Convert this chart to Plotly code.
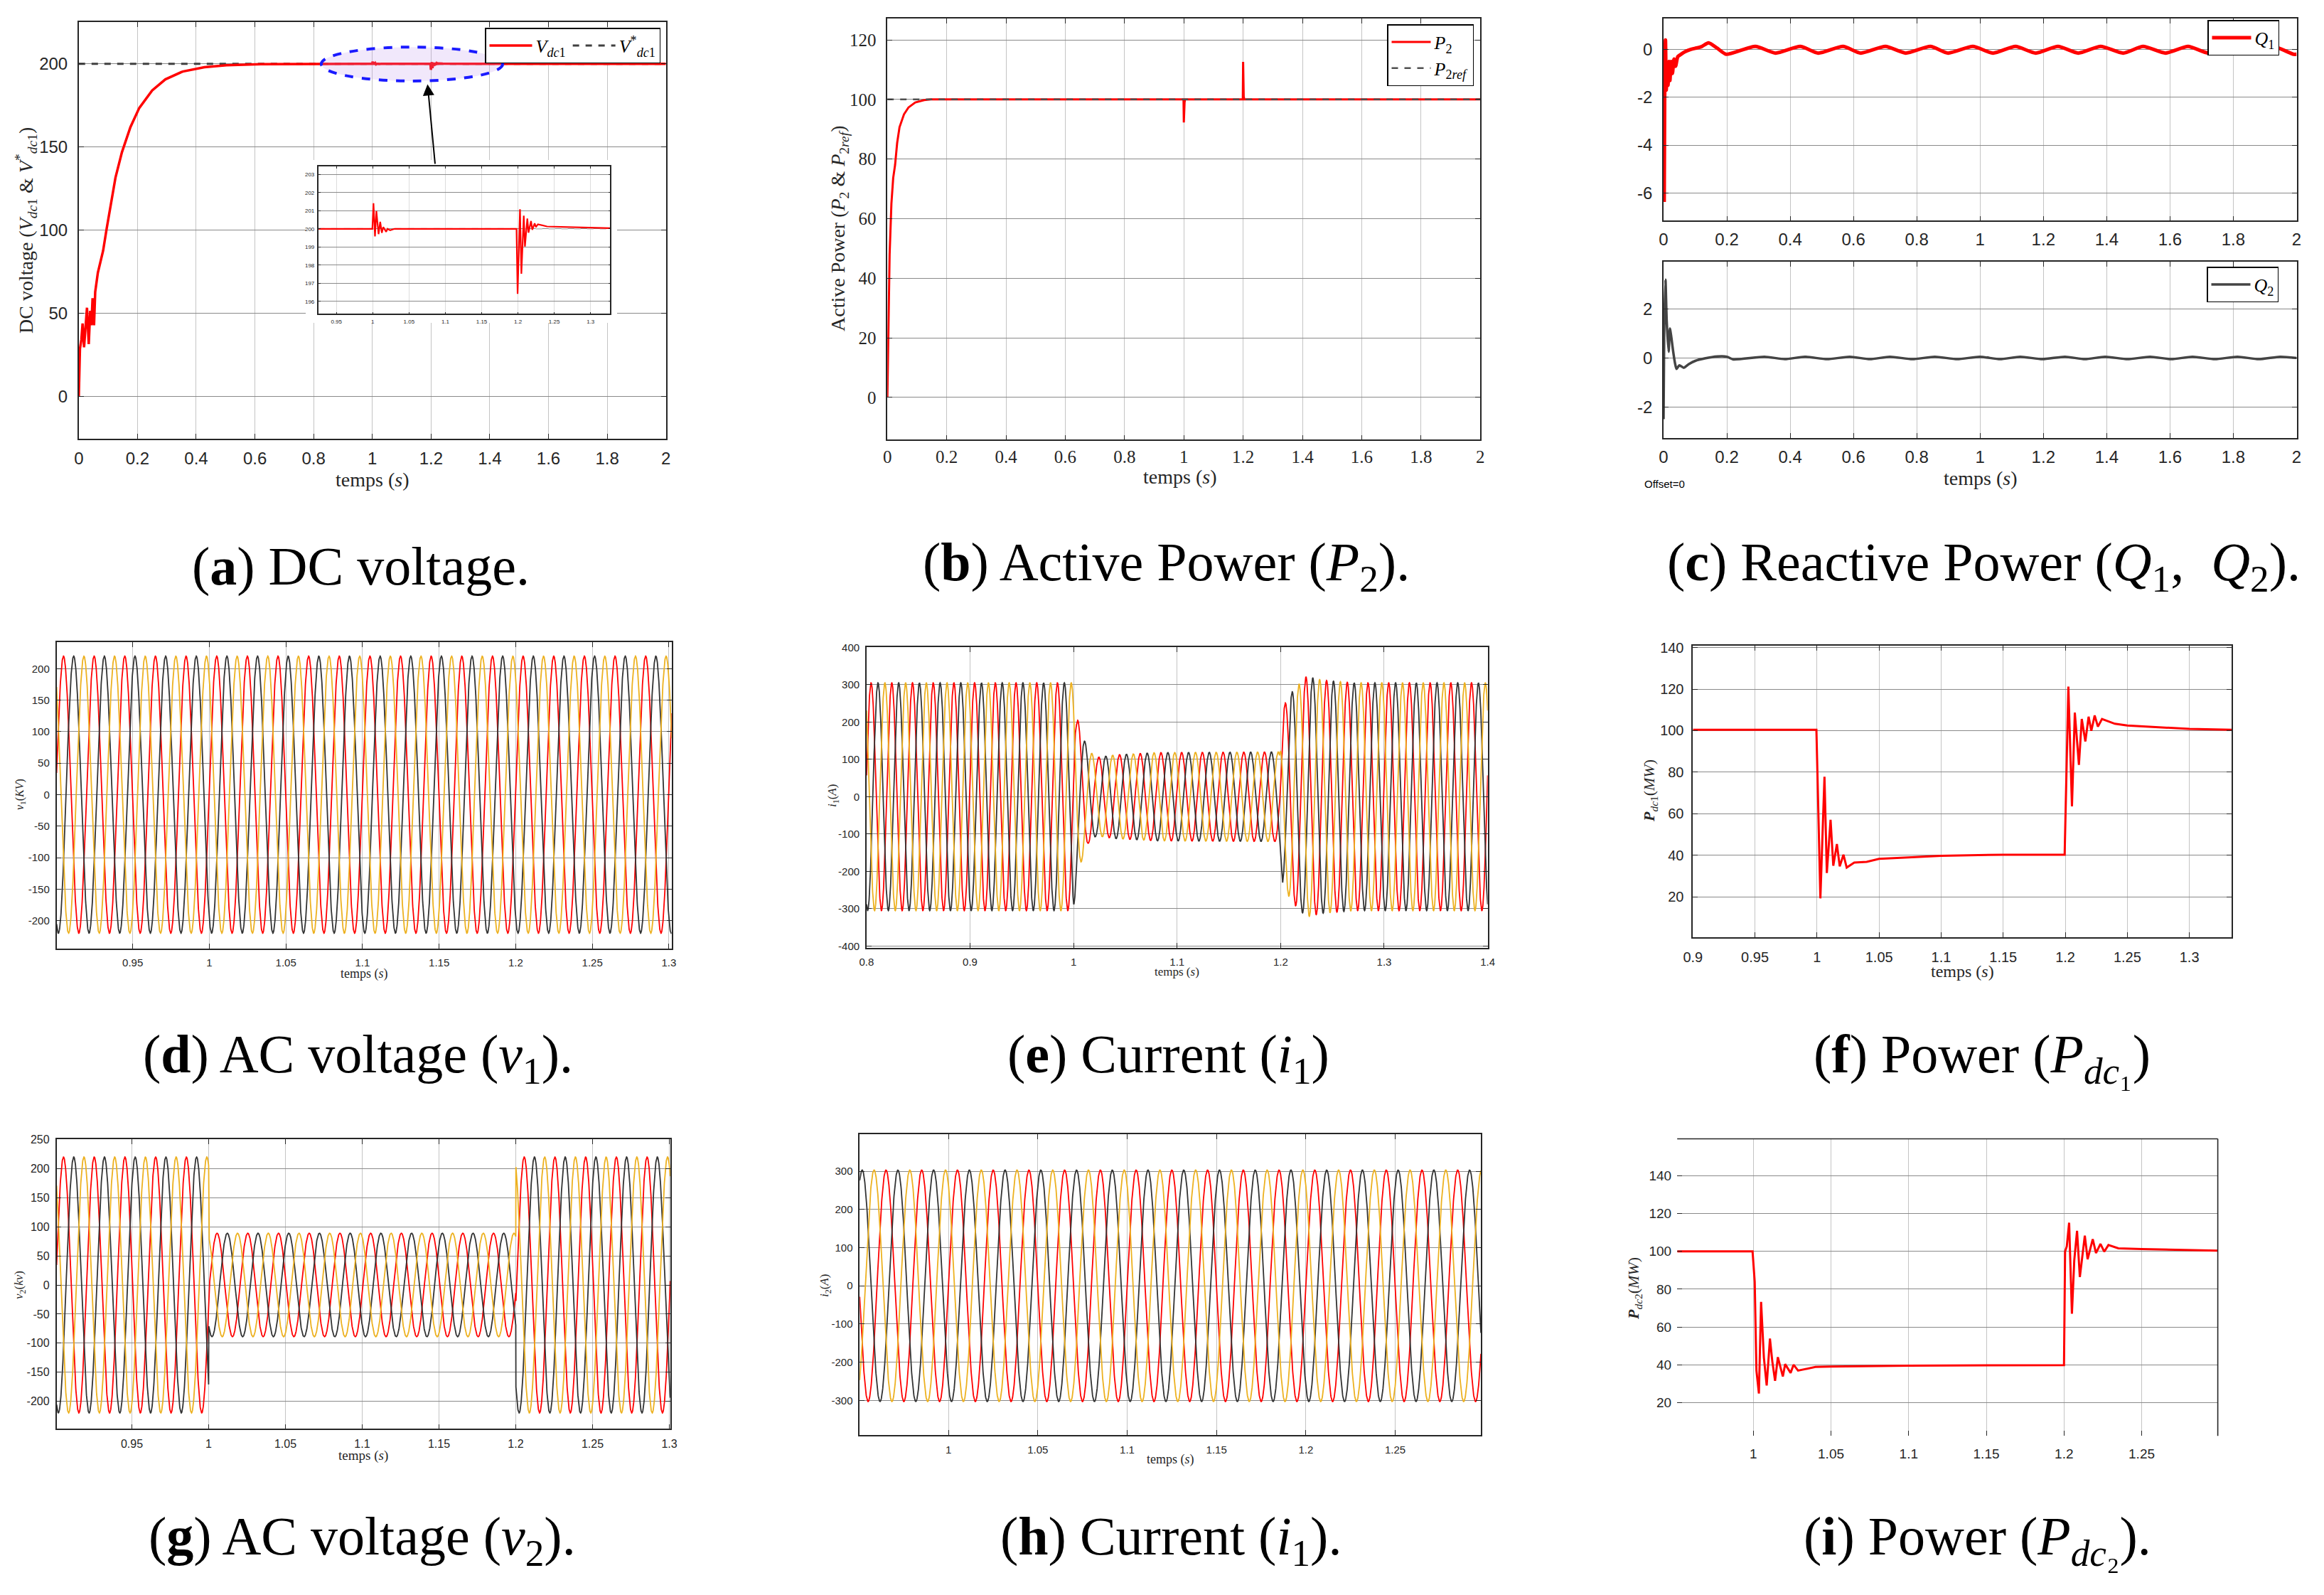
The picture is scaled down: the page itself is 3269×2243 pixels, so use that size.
import numpy as np
import plotly.graph_objects as go

W, H = 3269, 2243
SANS = "Liberation Sans"
SERIF = "Liberation Serif"
RED = "#FF0000"
DARK = "#333333"
ORANGE = "#EDB120"
INK = "#262626"

# ---------------- data ----------------
# (a) DC voltage
vdc_start_t = [0, 0.004, 0.009, 0.013, 0.018, 0.024, 0.028, 0.034, 0.039, 0.043, 0.047, 0.052, 0.056,
               0.065, 0.073, 0.083, 0.095, 0.11, 0.125, 0.147, 0.176, 0.206, 0.25, 0.295, 0.354,
               0.428, 0.503, 0.621, 0.77]
vdc_start_v = [0, 28.8, 34.5, 44, 29.7, 42, 53.5, 31.6, 51.6, 43, 59.2, 43, 63,
               74.5, 80.2, 87.8, 101, 116, 131.6, 146.9, 162, 173.5, 184, 190.7, 195.4,
               198, 199.2, 199.8, 200]
vdc_zoom_t = [0.925, 0.9995, 1.001, 1.0031, 1.005, 1.008, 1.0103, 1.0125, 1.0145, 1.0184, 1.0204,
              1.024, 1.03, 1.198, 1.1995, 1.2028, 1.2047, 1.208, 1.2096, 1.2129, 1.2145, 1.218,
              1.2197, 1.223, 1.2246, 1.2275, 1.24, 1.327]
vdc_zoom_v = [200, 200, 201.41, 199.58, 200.98, 199.71, 200.39, 199.78, 200.1, 199.84, 200.0,
              199.92, 200, 200, 196.42, 201.08, 197.53, 200.73, 199.03, 200.57, 199.79, 200.43,
              199.95, 200.3, 200.1, 200.25, 200.13, 200.04]
vdc_end_t = [2.0]
vdc_end_v = [200]
vdc_ref_t = [0, 2]
vdc_ref_v = [200, 200]
vdc_x_ticks = [0, 0.2, 0.4, 0.6, 0.8, 1, 1.2, 1.4, 1.6, 1.8, 2]
vdc_y_ticks = [0, 50, 100, 150, 200]
zoom_x_ticks = [0.95, 1, 1.05, 1.1, 1.15, 1.2, 1.25, 1.3]
zoom_y_ticks = [196, 197, 198, 199, 200, 201, 202, 203]

# (b) Active power
p2_t = [0, 0.003, 0.0076, 0.0136, 0.0197, 0.026, 0.033, 0.041, 0.056, 0.071, 0.094, 0.124, 0.147,
        0.999, 1.0, 1.0025, 1.004, 1.199, 1.2, 1.202, 1.204, 2.0]
p2_v = [0, 20.4, 48, 65, 73.7, 78, 85.4, 90.7, 95, 97.3, 99, 99.8, 100,
        100, 92.3, 99, 100, 100, 112.6, 101, 100, 100]
p2ref_t = [0, 2]
p2ref_v = [100, 100]
p2_y_ticks = [0, 20, 40, 60, 80, 100, 120]

# (c) Reactive powers
q1_t = [0, 0.002, 0.0035, 0.006, 0.0085, 0.011, 0.014, 0.017, 0.02, 0.024, 0.028, 0.033, 0.038,
        0.045, 0.055, 0.07, 0.085, 0.1, 0.12, 0.142, 0.17, 0.198,
        0.29, 0.354, 0.432, 0.489, 0.567, 0.623, 0.701, 0.765, 0.843, 0.899, 0.977, 1.041,
        1.112, 1.176, 1.246, 1.31, 1.381, 1.452, 1.515, 1.586, 1.657, 1.721, 1.799, 1.856,
        1.925, 1.99, 2.0]
q1_v = [0.1, -6.3, -2.0, 0.4, -1.7, -0.6, -1.5, -0.5, -1.3, -0.5, -1.0, -0.4, -0.7,
        -0.3, -0.2, -0.08, 0.0, 0.05, 0.12, 0.28, 0.05, -0.2,
        0.13, -0.15, 0.13, -0.15, 0.13, -0.15, 0.13, -0.15, 0.13, -0.15, 0.13, -0.15,
        0.13, -0.15, 0.13, -0.15, 0.13, -0.15, 0.13, -0.15, 0.13, -0.15, 0.13, -0.15,
        0.13, -0.2, -0.2]
q2_t = [0, 0.002, 0.006, 0.01, 0.016, 0.02, 0.024, 0.03, 0.036, 0.041, 0.05, 0.064, 0.08, 0.1,
        0.13, 0.17, 0.2, 0.22,
        0.319, 0.383, 0.446, 0.517, 0.588, 0.652, 0.715, 0.786, 0.857, 0.928, 0.999, 1.063,
        1.127, 1.197, 1.268, 1.331, 1.395, 1.466, 1.537, 1.604, 1.671, 1.742, 1.813, 1.88,
        1.948, 2.0]
q2_v = [-2.5, 1.0, 3.2, 1.5, 0.25, 1.2, 0.9, 0.3, -0.2, -0.45, -0.3, -0.4, -0.25, -0.12,
        -0.02, 0.06, 0.05, -0.06,
        0.05, -0.05, 0.05, -0.05, 0.05, -0.05, 0.05, -0.05, 0.05, -0.05, 0.05, -0.05,
        0.05, -0.05, 0.05, -0.05, 0.05, -0.05, 0.05, -0.05, 0.05, -0.05, 0.05, -0.05,
        0.05, 0.0]
q1_y_ticks = [-6, -4, -2, 0]
q2_y_ticks = [-2, 0, 2]

# three-phase waveforms (50 Hz, phase order red -> dark -> orange)
f_grid = 50
phase_colors = [RED, DARK, ORANGE]
# (d) v1
v1_window = [0.9003, 1.3017]
v1_amp = 220
v1_red_peak = 0.9048
# (e) i1 : amplitude envelope
i1_window = [0.8, 1.4]
i1_env_t = [0.8, 1.0, 1.003, 1.008, 1.014, 1.022, 1.04, 1.08, 1.199, 1.202, 1.212, 1.225, 1.24, 1.27, 1.4]
i1_env_a = [305, 305, 215, 170, 125, 105, 112, 118, 120, 240, 285, 322, 312, 305, 305]
i1_red_peak = 0.8044
# (g) v2 : amplitude steps
v2_window = [0.901, 1.3006]
v2_step_t = [1.0, 1.2]
v2_step_a = [220, 89, 220]
v2_red_peak = 0.9055
# (h) i2
i2_window = [0.9503, 1.298]
i2_amp = 303
i2_red_peak = 0.965

# (f) Pdc1
pdc1_t = [0.9, 0.9995, 1.0027, 1.006, 1.0079, 1.0109, 1.0131, 1.016, 1.0183, 1.0213, 1.0239, 1.03,
          1.04, 1.05, 1.1, 1.15, 1.1995, 1.2025, 1.2054, 1.2077, 1.211, 1.2133, 1.2162, 1.2188,
          1.221, 1.2237, 1.2263, 1.2296, 1.24, 1.25, 1.3, 1.334]
pdc1_v = [100.4, 100.4, 19.3, 77.8, 31.5, 57.1, 35, 45.4, 34.7, 40.3, 34.1, 36.5,
          36.9, 38.3, 39.8, 40.3, 40.3, 121.2, 63.6, 108.7, 83.5, 105.6, 94.8, 106.7,
          99.9, 107.3, 101.9, 105.6, 103.3, 102.5, 100.8, 100.4]
# (i) Pdc2
pdc2_t = [0.951, 0.9995, 1.0009, 1.002, 1.0036, 1.005, 1.0068, 1.0086, 1.0107, 1.0122, 1.014,
          1.0158, 1.019, 1.0205, 1.024, 1.0259, 1.0288, 1.04, 1.05, 1.1, 1.2, 1.2007, 1.2018,
          1.2033, 1.2051, 1.2066, 1.2084, 1.2102, 1.2134, 1.2152, 1.2185, 1.2206, 1.2235,
          1.2259, 1.2286, 1.235, 1.25, 1.299]
pdc2_v = [100, 100, 83.9, 37, 24.9, 73.3, 43.9, 29.1, 53.9, 42, 31.6,
          44.1, 33.9, 40.4, 35.8, 40.1, 37, 38.9, 39.1, 39.6, 39.9, 100, 102.6,
          115.1, 67, 95.1, 110.8, 86.4, 108.3, 95.8, 106.4, 99.1, 103.9,
          99.8, 103.3, 101.6, 101.2, 100.3]
pdc_y_ticks = [20, 40, 60, 80, 100, 120, 140]

fig = go.Figure()


def fmt(v):
    return f"{v:g}"


def dom(px0, px1, is_x):
    if is_x:
        return [px0 / W, px1 / W]
    return [1 - px1 / H, 1 - px0 / H]


def axis(n, is_x, dpx, rng, ticks, family, size, grid, standoff, showline=True):
    other = ("y" if is_x else "x") + ("" if n == 1 else str(n))
    d = dict(domain=dom(dpx[0], dpx[1], is_x), range=rng, anchor=other, automargin=False,
             tickmode="array", tickvals=ticks, ticktext=[fmt(v) for v in ticks],
             tickfont=dict(family=family, size=size, color=INK),
             showgrid=True, gridcolor=grid, gridwidth=1.3, zeroline=False,
             showline=showline, linecolor=INK, linewidth=1.6,
             mirror="ticks" if showline else False,
             ticks="inside", ticklen=7, tickcolor=INK, tickwidth=1.2,
             ticklabelstandoff=standoff, fixedrange=True)
    return d


layout = {}


def add_axes(n, xpx, ypx, xr, yr, xt, yt, family, size, xs=6, ys=6, xgrid="#c4c4c4",
             ygrid="#8a8a8a", showline=True):
    kx = "xaxis" if n == 1 else f"xaxis{n}"
    ky = "yaxis" if n == 1 else f"yaxis{n}"
    layout[kx] = axis(n, True, xpx, xr, xt, family, size, xgrid, xs, showline)
    layout[ky] = axis(n, False, ypx, yr, yt, family, size, ygrid, ys, showline)


def ref(n):
    return ("x" if n == 1 else f"x{n}"), ("y" if n == 1 else f"y{n}")


# ---- (a) ----
add_axes(1, [110.8, 936.7], [31.3, 616.5], [0, 2], [-25, 225], vdc_x_ticks, vdc_y_ticks, SANS, 24, 6, 9)
fig.add_trace(go.Scatter(x=vdc_ref_t, y=vdc_ref_v, mode="lines", line=dict(color="#404040", width=3, dash="dash"),
                         name="<i>V</i><sup>*</sup><sub><i>dc</i>1</sub>", legend="legend", showlegend=True))
fig.add_trace(go.Scatter(x=vdc_start_t + vdc_zoom_t + vdc_end_t, y=vdc_start_v + vdc_zoom_v + vdc_end_v,
                         mode="lines", line=dict(color=RED, width=3.5),
                         name="<i>V</i><sub><i>dc</i>1</sub>", legend="legend", showlegend=True))
# inset background (own subplot so it hides the main grid)
layout["xaxis2"] = dict(domain=dom(430, 868, True), range=[0, 1], anchor="y2", visible=False,
                        fixedrange=True, automargin=False)
layout["yaxis2"] = dict(domain=dom(225, 454, False), range=[0, 1], anchor="x2", visible=False,
                        fixedrange=True, automargin=False)
fig.add_trace(go.Scatter(x=[0, 1, 1, 0, 0], y=[0, 0, 1, 1, 0], xaxis="x2", yaxis="y2", mode="lines",
                         fill="toself", fillcolor="white", line=dict(width=0), showlegend=False, hoverinfo="skip"))
# inset
add_axes(3, [447.7, 858.3], [234, 441.3], [0.925, 1.327], [195.32, 203.44], zoom_x_ticks, zoom_y_ticks,
         SANS, 8, 2, 2, xgrid="#dcdcdc", ygrid="#8a8a8a")
layout["xaxis3"]["ticklen"] = 3
layout["yaxis3"]["ticklen"] = 3
fig.add_trace(go.Scatter(x=[vdc_zoom_t[0], vdc_zoom_t[-1]], y=vdc_ref_v, xaxis="x3", yaxis="y3", mode="lines",
                         line=dict(color="#c8c8c8", width=2, dash="dash"), showlegend=False))
fig.add_trace(go.Scatter(x=vdc_zoom_t, y=vdc_zoom_v, xaxis="x3", yaxis="y3", mode="lines",
                         line=dict(color=RED, width=2.2), showlegend=False))

# ---- (b) ----
add_axes(4, [1248.2, 2082.2], [25.9, 618.3], [0, 2], [-14.2, 127.2], vdc_x_ticks, p2_y_ticks, SERIF, 25, 1, 9)
fig.add_trace(go.Scatter(x=p2_t, y=p2_v, xaxis="x4", yaxis="y4", mode="lines", line=dict(color=RED, width=3),
                         name="<i>P</i><sub>2</sub>", legend="legend2"))
fig.add_trace(go.Scatter(x=p2ref_t, y=p2ref_v, xaxis="x4", yaxis="y4", mode="lines",
                         line=dict(color="#505050", width=2.5, dash="dash"),
                         name="<i>P</i><sub>2<i>ref</i></sub>", legend="legend2"))

# ---- (c) ----
add_axes(5, [2340, 3230.5], [25.9, 310.3], [0, 2], [-7.16, 1.3], vdc_x_ticks, q1_y_ticks, SANS, 24, 4, 9)
fig.add_trace(go.Scatter(x=q1_t, y=q1_v, xaxis="x5", yaxis="y5", mode="lines",
                         line=dict(color=RED, width=5, shape="spline", smoothing=0.6),
                         name="<i>Q</i><sub>1</sub>", legend="legend3"))
add_axes(6, [2340, 3230.5], [368, 616], [0, 2], [-3.27, 3.93], vdc_x_ticks, q2_y_ticks, SANS, 24, 4, 9)
fig.add_trace(go.Scatter(x=q2_t, y=q2_v, xaxis="x6", yaxis="y6", mode="lines",
                         line=dict(color="#444444", width=3.5, shape="spline", smoothing=0.6),
                         name="<i>Q</i><sub>2</sub>", legend="legend4"))


def phases(n, t0, t1, amp_of_t, t_peak):
    t = np.arange(t0, t1 + 1e-4, 1e-4)
    a = amp_of_t(t)
    xr, yr = ref(n)
    for k, col in enumerate(phase_colors):
        y = a * np.cos(2 * np.pi * f_grid * (t - t_peak - k / (3 * f_grid)))
        fig.add_trace(go.Scatter(x=t, y=y, xaxis=xr, yaxis=yr, mode="lines",
                                 line=dict(color=col, width=1.8), showlegend=False, hoverinfo="skip"))


# ---- (d) ----
add_axes(7, [79.6, 944.6], [903.2, 1333.6], v1_window, [-244, 242],
         [0.95, 1, 1.05, 1.1, 1.15, 1.2, 1.25, 1.3], list(range(-200, 201, 50)), SANS, 15, 6, 5)
phases(7, v1_window[0], v1_window[1], lambda t: np.full_like(t, v1_amp), v1_red_peak)

# ---- (e) ----
add_axes(8, [1218.9, 2092.6], [909.8, 1332.6], i1_window, [-404, 401],
         [0.8, 0.9, 1, 1.1, 1.2, 1.3, 1.4], list(range(-400, 401, 100)), SANS, 15, 6, 5)
phases(8, i1_window[0], i1_window[1], lambda t: np.interp(t, i1_env_t, i1_env_a), i1_red_peak)

# ---- (f) ----
add_axes(9, [2381.3, 3139], [908.2, 1317.7], [0.9, 1.334], [0.7, 140.8],
         [0.9, 0.95, 1, 1.05, 1.1, 1.15, 1.2, 1.25, 1.3], pdc_y_ticks, SANS, 20, 9, 7)
fig.add_trace(go.Scatter(x=pdc1_t, y=pdc1_v, xaxis="x9", yaxis="y9", mode="lines",
                         line=dict(color=RED, width=3), showlegend=False))

# ---- (g) ----
add_axes(10, [79.6, 942.8], [1602.2, 2009.4], v2_window, [-247.4, 250.4],
         [0.95, 1, 1.05, 1.1, 1.15, 1.2, 1.25, 1.3], list(range(-200, 251, 50)), SANS, 16, 6, 5)
phases(10, v2_window[0], v2_window[1],
       lambda t: np.where(t < v2_step_t[0], v2_step_a[0], np.where(t < v2_step_t[1], v2_step_a[1], v2_step_a[2])),
       v2_red_peak)

# ---- (h) ----
add_axes(11, [1209.3, 2083.1], [1594.9, 2017.7], i2_window, [-390, 397],
         [1, 1.05, 1.1, 1.15, 1.2, 1.25], list(range(-300, 301, 100)), SANS, 15, 6, 5)
phases(11, i2_window[0], i2_window[1], lambda t: np.full_like(t, i2_amp), i2_red_peak)

# ---- (i) ----
add_axes(12, [2359.2, 3119.6], [1601.5, 2019.3], [0.951, 1.299], [2.5, 159.4],
         [1, 1.05, 1.1, 1.15, 1.2, 1.25], pdc_y_ticks, SANS, 19, 12, 7, showline=False)
fig.add_trace(go.Scatter(x=pdc2_t, y=pdc2_v, xaxis="x12", yaxis="y12", mode="lines",
                         line=dict(color=RED, width=3), showlegend=False))

# ---------------- shapes ----------------
shapes = [
    dict(type="circle", xref="x", yref="y", x0=0.826, x1=1.444, y0=189.7, y1=210.1,
         line=dict(color="#1a1aff", width=4, dash="dash"), fillcolor="rgba(190,150,235,0.22)", layer="above"),
    dict(type="line", xref="x12 domain", yref="y12 domain", x0=0, x1=1, y0=1, y1=1,
         line=dict(color=INK, width=1.6)),
    dict(type="line", xref="x12 domain", yref="y12 domain", x0=1, x1=1, y0=0, y1=1,
         line=dict(color=INK, width=1.6)),
]

# ---------------- annotations ----------------
ann = []


def txt(xpx, ypx, text, size, family=SERIF, angle=0, xanchor="center", yanchor="middle", color="black"):
    ann.append(dict(x=xpx / W, y=1 - ypx / H, xref="paper", yref="paper", text=text, showarrow=False,
                    textangle=angle, xanchor=xanchor, yanchor=yanchor,
                    font=dict(family=family, size=size, color=color)))


# arrow to the inset
ann.append(dict(x=1.188, y=187.8, ax=1.214, ay=139.3, xref="x", yref="y", axref="x", ayref="y",
                text="", showarrow=True, arrowhead=2, arrowsize=1.6, arrowwidth=2, arrowcolor="black"))

# axis titles
temps = "temps (<i>s</i>)"
txt(523, 674, temps, 28, color=INK)
txt(1660, 670, temps, 28, color=INK)
txt(2785, 672, temps, 28, color=INK)
txt(512, 1369, temps, 18, color=INK)
txt(1655, 1366, temps, 17, color=INK)
txt(2760, 1366, temps, 24, color=INK)
txt(511, 2047, temps, 19, color=INK)
txt(1646, 2052, temps, 18, color=INK)
txt(2311, 681, "Offset=0", 15, family=SANS, xanchor="left")

txt(37, 324, "DC voltage (<i>V</i><sub><i>dc</i>1</sub> &amp; <i>V</i><sup>*</sup><sub><i>dc</i>1</sub>)", 28,
    angle=-90, color=INK)
txt(1180, 322, "Active Power (<i>P</i><sub>2</sub> &amp; <i>P</i><sub>2<i>ref</i></sub>)", 28, angle=-90, color=INK)
txt(28, 1117, "<i>v</i><sub>1</sub>(<i>KV</i>)", 16, angle=-90, color=INK)
txt(1172, 1119, "<i>i</i><sub>1</sub>(<i>A</i>)", 17, angle=-90, color=INK)
txt(2321, 1112, "<b><i>P</i></b><sub><i>dc</i>1</sub>(<i>MW</i>)", 22, angle=-90, color=INK)
txt(28, 1807, "<i>v</i><sub>2</sub>(<i>kv</i>)", 17, angle=-90, color=INK)
txt(1161, 1808, "<i>i</i><sub>2</sub>(<i>A</i>)", 17, angle=-90, color=INK)
txt(2299, 1812, "<b><i>P</i></b><sub><i>dc</i>2</sub>(<i>MW</i>)", 22, angle=-90, color=INK)

# captions
CAP = 76
txt(508, 796, "(<b>a</b>) DC voltage.", CAP)
txt(1641, 796, "(<b>b</b>) Active Power (<i>P</i><sub>2</sub>).", CAP)
txt(2790, 796, "(<b>c</b>) Reactive Power (<i>Q</i><sub>1</sub>,  <i>Q</i><sub>2</sub>).", CAP)
txt(503, 1488, "(<b>d</b>) AC voltage (<i>v</i><sub>1</sub>).", CAP)
txt(1643, 1488, "(<b>e</b>) Current (<i>i</i><sub>1</sub>)", CAP)
txt(2788, 1488, "(<b>f</b>) Power (<i>P</i><sub><i>dc</i>₁</sub>)", CAP)
txt(509, 2166, "(<b>g</b>) AC voltage (<i>v</i><sub>2</sub>).", CAP)
txt(1647, 2166, "(<b>h</b>) Current (<i>i</i><sub>1</sub>).", CAP)
txt(2781, 2166, "(<b>i</b>) Power (<i>P</i><sub><i>dc</i>₂</sub>).", CAP)

leg_common = dict(bgcolor="white", bordercolor="black", borderwidth=1.5,
                  font=dict(family=SERIF, size=26, color="black"), xanchor="right", yanchor="top")

layout.update(dict(
    template="none",
    width=W, height=H, autosize=False,
    margin=dict(l=0, r=0, t=0, b=0, pad=0),
    paper_bgcolor="white", plot_bgcolor="white",
    showlegend=True,
    legend=dict(x=929 / W, y=1 - 39 / H, orientation="h", itemwidth=60, traceorder="reversed", **leg_common),
    legend2=dict(x=2073 / W, y=1 - 34 / H, orientation="v", itemwidth=55, tracegroupgap=0, **leg_common),
    legend3=dict(x=3206 / W, y=1 - 28 / H, orientation="v", itemwidth=55, **leg_common),
    legend4=dict(x=3205 / W, y=1 - 375 / H, orientation="v", itemwidth=55, **leg_common),
    shapes=shapes, annotations=ann,
))
fig.update_layout(layout)
fig.write_html("out.html", config={"displayModeBar": False},
               post_script="document.body.style.margin='0';document.body.style.overflow='hidden';")
